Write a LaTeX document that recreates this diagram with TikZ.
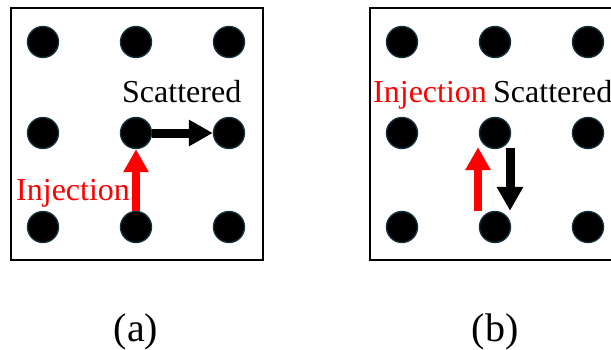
\documentclass[tikz,border=0pt]{standalone}
\usepackage{fontspec}
\setmainfont{Liberation Serif}
\newfontfamily\timesfam{Liberation Serif}
\usetikzlibrary{arrows.meta}
\definecolor{dotrim}{HTML}{12303C}
\begin{document}
\begin{tikzpicture}[x=1pt,y=-1pt,
  dot/.style={circle,fill=black,draw=dotrim,line width=1.4pt,minimum size=31pt,inner sep=0pt},
  frame/.style={draw=black,line width=2.6pt},
  redarrow/.style={draw=red,line width=8pt,-{Triangle[width=24pt,length=23pt]}},
  blackarrow/.style={draw=black,line width=9pt,-{Triangle[width=25pt,length=24pt]}},
  lbl/.style={font=\timesfam\fontsize{32}{36}\selectfont,inner sep=0pt,anchor=base west},
  captxt/.style={font=\timesfam\fontsize{40}{44}\selectfont,inner sep=0pt,anchor=base}
]
\useasboundingbox (0,0) rectangle (611,349);
\clip (0,0) rectangle (611,349);
% frames
\draw[frame] (11,8) rectangle (263,260);
\draw[frame] (370,8) rectangle (623,260);
% panel (a) dots
\foreach \r/\y in {0/42,1/133,2/227}{
  \foreach \c/\x in {0/43,1/136,2/229}{
    \node[dot] (a\r\c) at (\x,\y) {};
  }
}
% panel (b) dots
\foreach \r/\y in {0/42,1/133,2/227}{
  \foreach \c/\x in {0/402,1/495,2/588}{
    \node[dot] (b\r\c) at (\x,\y) {};
  }
}
% panel (a) arrows
\draw[redarrow] (a21.north) -- (a11.south);
\draw[blackarrow] (a11.east) -- (a12.west);
% panel (b) arrows
\draw[redarrow] ([xshift=-17pt]b21.north) -- ([xshift=-17pt,yshift=2pt]b11.south);
\draw[blackarrow] ([xshift=15pt,yshift=1pt]b11.south) -- ([xshift=15pt]b21.north);
% labels
\node[lbl,text=red] (injA) at (16,200) {Injection};
\node[lbl] (scatA) at (122,102) {Scattered};
\node[lbl,text=red] (injB) at (373,102) {Injection};
\node[lbl] (scatB) at (493,102) {Scattered};
\node[captxt] (capA) at (136,341) {(a)};
\node[captxt] (capB) at (495,341) {(b)};
\end{tikzpicture}
\end{document}
